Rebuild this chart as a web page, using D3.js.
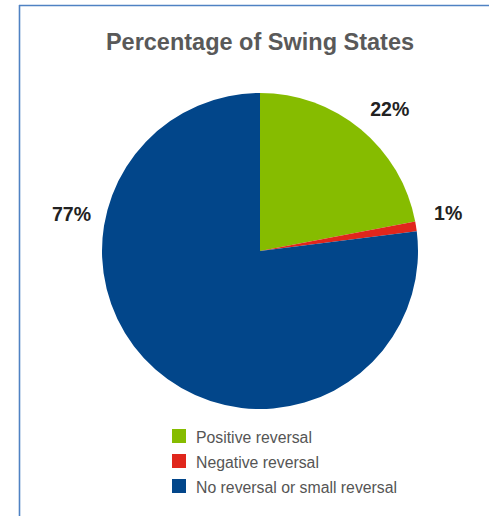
<!DOCTYPE html>
<html>
<head>
<meta charset="utf-8">
<script src="https://cdn.jsdelivr.net/npm/d3@7/dist/d3.min.js"></script>
<style>
  html, body { margin: 0; padding: 0; background: #fff; }
  svg { display: block; }
</style>
</head>
<body>
<svg id="chart" width="489" height="516"></svg>
<script>
// Share of swing states by reversal type
const categories = ["Positive reversal", "Negative reversal", "No reversal or small reversal"];
const values = [22, 1, 77];
const colors = ["#86bc00", "#e0261c", "#02468a"];

// Label placement (angle in degrees clockwise from 12 o'clock, radius in px)
const labelAngles = [42.5, 78.5, 281];
const labelRadius = 192;

const W = 489, H = 516;
const cx = 260, cy = 251, R = 158;

const svg = d3.select("#chart");

// Frame lines on the top and left edges
svg.append("line").attr("x1", 19).attr("y1", 5.5).attr("x2", W).attr("y2", 5.5)
  .attr("stroke", "#4f82c3").attr("stroke-width", 1.6);
svg.append("line").attr("x1", 19.5).attr("y1", 5).attr("x2", 19.5).attr("y2", H)
  .attr("stroke", "#4f82c3").attr("stroke-width", 1.6);

svg.append("text")
  .attr("x", cx).attr("y", 50)
  .attr("text-anchor", "middle")
  .attr("font-family", "Liberation Sans, Arial, sans-serif")
  .attr("font-weight", "bold")
  .attr("font-size", 23.5)
  .attr("fill", "#595959")
  .text("Percentage of Swing States");

const pie = d3.pie().sort(null).value(d => d.value);
const arcs = pie(categories.map((c, i) => ({ cat: c, value: values[i], color: colors[i] })));
const arc = d3.arc().innerRadius(0).outerRadius(R);

const g = svg.append("g").attr("transform", `translate(${cx},${cy})`);
g.selectAll("path").data(arcs).join("path")
  .attr("d", arc)
  .attr("fill", d => d.data.color);

g.selectAll("text.lbl").data(arcs).join("text")
  .attr("class", "lbl")
  .attr("x", (d, i) => labelRadius * Math.sin(labelAngles[i] * Math.PI / 180))
  .attr("y", (d, i) => -labelRadius * Math.cos(labelAngles[i] * Math.PI / 180))
  .attr("dy", "0.35em")
  .attr("text-anchor", "middle")
  .attr("font-family", "Liberation Sans, Arial, sans-serif")
  .attr("font-weight", "bold")
  .attr("font-size", 19.5)
  .attr("fill", "#222")
  .text(d => d.data.value + "%");

// Legend
const legend = svg.append("g").attr("transform", "translate(172,429)");
const rows = legend.selectAll("g").data(categories).join("g")
  .attr("transform", (d, i) => `translate(0,${i * 25})`);
rows.append("rect").attr("width", 14).attr("height", 14)
  .attr("fill", (d, i) => colors[i]);
rows.append("text").attr("x", 24).attr("y", 13.5)
  .attr("font-family", "Liberation Sans, Arial, sans-serif")
  .attr("font-size", 15.8)
  .attr("fill", "#555")
  .text(d => d);
</script>
</body>
</html>
